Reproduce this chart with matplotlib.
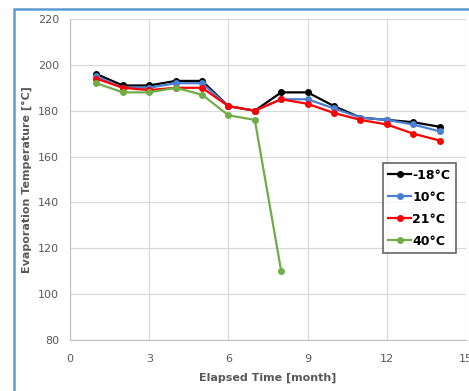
import matplotlib.pyplot as plt
from matplotlib.patches import Rectangle

# Elapsed time (months) and evaporation temperatures per storage temperature
months = [1, 2, 3, 4, 5, 6, 7, 8, 9, 10, 11, 12, 13, 14]
temp_m18 = [196, 191, 191, 193, 193, 182, 180, 188, 188, 182, 177, 176, 175, 173]
temp_10 = [195, 190, 190, 192, 192, 182, 180, 185, 185, 181, 177, 176, 174, 171]
temp_21 = [194, 190, 189, 190, 190, 182, 180, 185, 183, 179, 176, 174, 170, 167]
months_40 = [1, 2, 3, 4, 5, 6, 7, 8]
temp_40 = [192, 188, 188, 190, 187, 178, 176, 110]

x_ticks = [0, 3, 6, 9, 12, 15]
y_ticks = [80, 100, 120, 140, 160, 180, 200, 220]

fig = plt.figure(figsize=(4.69, 3.91), dpi=100)
ax = fig.add_axes([0.1493, 0.1304, 0.8443, 0.821])

# Blue frame of the chart object (right and bottom cut off)
fig.patches.append(Rectangle((14 / 469, -0.1), 1.2, 1 - 9 / 391 + 0.1,
                             transform=fig.transFigure, fill=False,
                             edgecolor='#5B9BD5', linewidth=1.8))

series = [
    (months, temp_m18, 'black', '-18°C'),
    (months, temp_10, '#4A7FD4', '10°C'),
    (months, temp_21, '#FF0000', '21°C'),
    (months_40, temp_40, '#70AD47', '40°C'),
]
for xs, ys, c, lab in series:
    ax.plot(xs, ys, color=c, linewidth=1.6, marker='o', markersize=4, label=lab, zorder=3)

ax.set_xlim(0, 15)
ax.set_ylim(80, 220)
ax.set_xticks(x_ticks)
ax.set_yticks(y_ticks)
ax.grid(True, color='#D9D9D9', linewidth=0.9)
ax.set_axisbelow(True)
for s in ['top', 'right']:
    ax.spines[s].set_visible(False)
for s in ['left', 'bottom']:
    ax.spines[s].set_color('#BFBFBF')
ax.tick_params(length=0, labelsize=8, colors='#595959')
ax.tick_params(axis='x', pad=10)
ax.tick_params(axis='y', pad=8)

ax.set_xlabel('Elapsed Time [month]', fontsize=8, fontweight='bold', color='#595959', labelpad=6)
ax.set_ylabel('Evaporation Temperature [°C]', fontsize=8, fontweight='bold', color='#595959', labelpad=4)

leg = ax.legend(loc='upper left', bbox_to_anchor=(0.79, 0.551),
                prop={'weight': 'bold', 'size': 9}, frameon=True, fancybox=False,
                handlelength=1.8, handletextpad=0.1, borderpad=0.45, labelspacing=0.72,
                borderaxespad=0)
leg.get_frame().set_edgecolor('#404040')
leg.get_frame().set_linewidth(1.2)

fig.savefig('out.png', dpi=100, facecolor='white')
